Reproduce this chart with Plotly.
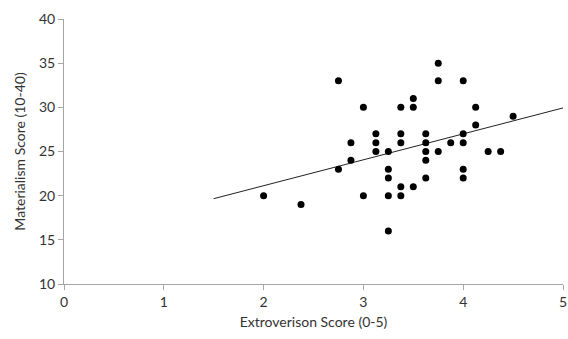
import plotly.graph_objects as go

# Extroversion (x) and Materialism (y) scores
extroversion = [2.0, 2.375, 2.75, 2.75, 2.875, 2.875, 3.0, 3.0,
                3.125, 3.125, 3.125, 3.25, 3.25, 3.25, 3.25, 3.25,
                3.375, 3.375, 3.375, 3.375, 3.375, 3.5, 3.5, 3.5,
                3.625, 3.625, 3.625, 3.625, 3.625, 3.75, 3.75, 3.75,
                3.875, 4.0, 4.0, 4.0, 4.0, 4.0, 4.125, 4.125,
                4.25, 4.375, 4.5]
materialism = [20, 19, 33, 23, 26, 24, 30, 20,
               27, 26, 25, 25, 23, 22, 20, 16,
               30, 27, 26, 21, 20, 31, 30, 21,
               27, 26, 25, 24, 22, 35, 33, 25,
               26, 33, 27, 26, 23, 22, 30, 28,
               25, 25, 29]

# Linear trendline endpoints
trend_x = [1.5, 5.0]
trend_y = [19.66, 29.93]

x_ticks = [0, 1, 2, 3, 4, 5]
y_ticks = [10, 15, 20, 25, 30, 35, 40]

fig = go.Figure()
fig.add_trace(go.Scatter(x=trend_x, y=trend_y, mode="lines",
                         line=dict(color="#222222", width=1), hoverinfo="skip"))
fig.add_trace(go.Scatter(x=extroversion, y=materialism, mode="markers",
                         marker=dict(color="black", size=7)))

font_family = "Lato, 'Liberation Sans', sans-serif"
axis_common = dict(showgrid=False, zeroline=False, showline=True,
                   linecolor="#a6a6a6", linewidth=1, ticks="outside",
                   tickcolor="#a6a6a6", ticklen=5, automargin=False,
                   tickfont=dict(family=font_family, size=14, color="#333333"))

fig.update_layout(
    width=568, height=339,
    margin=dict(l=64, r=5, t=19, b=55),
    paper_bgcolor="white", plot_bgcolor="white",
    showlegend=False,
    font=dict(family=font_family, color="#333333"),
    xaxis=dict(range=[0, 5], tickvals=x_ticks, **axis_common,
               title=dict(text="Extroverison Score (0-5)",
                          font=dict(family=font_family, size=14, color="#333333"),
                          standoff=8)),
    yaxis=dict(range=[10, 40], tickvals=y_ticks, **axis_common,
               title=dict(text="Materialism Score (10-40)",
                          font=dict(family=font_family, size=14, color="#333333"),
                          standoff=10)),
)

fig.write_html("out.html", config={"displayModeBar": False},
               post_script="document.body.style.margin='0';document.body.style.overflow='hidden';")
